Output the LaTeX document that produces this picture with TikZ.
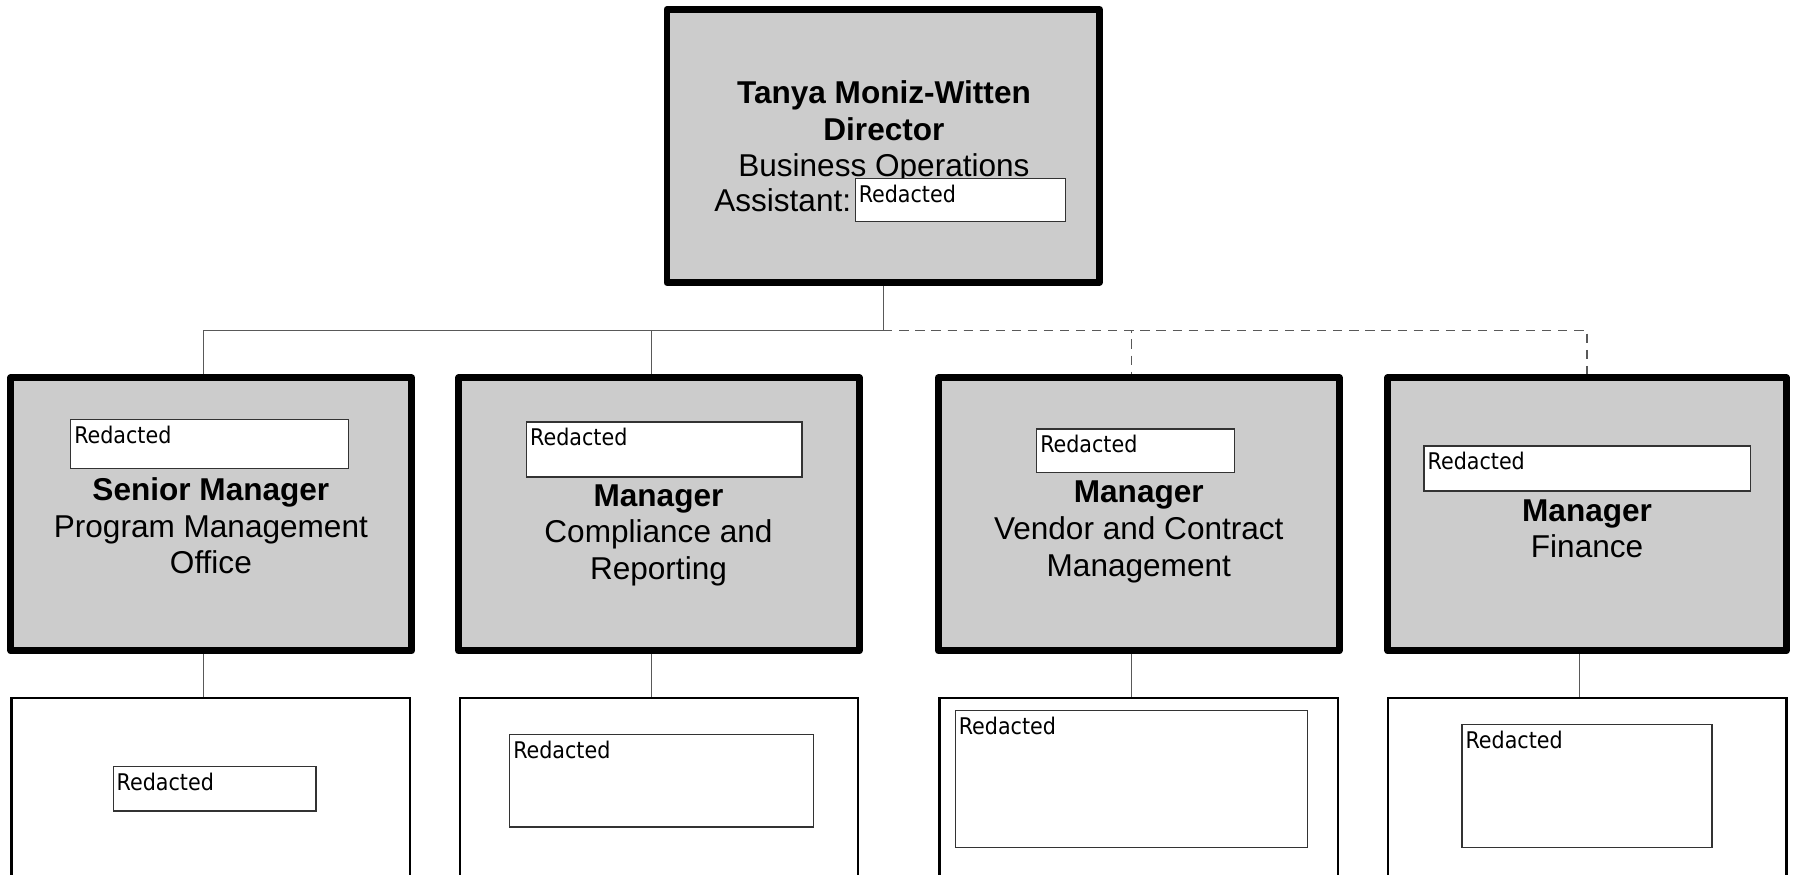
\documentclass[tikz,border=0pt]{standalone}
\usepackage{fontspec}
\setmainfont{Liberation Sans}
\newfontfamily\redfont{DejaVu Sans Condensed}
\begin{document}
\begin{tikzpicture}[x=1pt,y=-1pt,
  head/.style={draw,line width=6pt,line join=round,fill=black!20,inner sep=0pt,minimum width=349,minimum height=238},
  sub/.style={draw,line width=2.2pt,fill=white,inner sep=0pt,minimum width=347,minimum height=172},
  redact/.style={draw=black!80,line width=1.2pt,fill=white,inner sep=0pt,anchor=north west},
  redtext/.style={inner sep=0pt,anchor=base west,font=\redfont\fontsize{20}{24}\selectfont},
  title/.style={inner sep=0pt,anchor=base,align=center,font=\fontsize{27.5}{32}\selectfont},
  link/.style={black!65,line width=1.1pt},
  dotlink/.style={link,dash pattern=on 8pt off 6pt}]
\useasboundingbox (0,0) rectangle (1568,762);
\clip (0,0) rectangle (1568,762);

\node[head,minimum width=376.7,minimum height=237.8] (dir) at (769.4,127.1) {};
\node[head] (pmo) at (184,448) {};
\node[head] (comp) at (574,448) {};
\node[head] (vend) at (992,448) {};
\node[head,minimum width=347] (fin) at (1382.5,448) {};

\node[sub] (pmostaff) at (183.6,694) {};
\node[sub] (compstaff) at (574,694) {};
\node[sub] (vendstaff) at (992,694) {};
\node[sub] (finstaff) at (1382.5,694) {};

\coordinate (bus) at (769.4,287.8);
\draw[link] (dir.south) -- (bus);
\draw[link] (bus) -| ([xshift=-7]pmo.north);
\draw[link] (bus) -| ([xshift=-6.6]comp.north);
\draw[dotlink] (bus) -| ([xshift=-6.5]vend.north);
\draw[dotlink] (bus) -| (fin.north);

\draw[link] ([xshift=-7]pmo.south) -- ([xshift=-6.6]pmostaff.north);
\draw[link] ([xshift=-6.6]comp.south) -- ([xshift=-6.6]compstaff.north);
\draw[link] ([xshift=-6.5]vend.south) -- ([xshift=-6.5]vendstaff.north);
\draw[link] ([xshift=-6.5]fin.south) -- ([xshift=-6.5]finstaff.north);

\node[title] (dirtext) at (770,154) {\textbf{Tanya Moniz-Witten}\\\textbf{Director}\\Business Operations};
\node[title,anchor=base west] (asst) at (622,184.4) {Assistant:};
\node[title] (pmotext) at (183.7,499.8) {\textbf{Senior Manager}\\Program Management\\Office};
\node[title] (comptext) at (573.6,505) {\textbf{Manager}\\Compliance and\\Reporting};
\node[title] (vendtext) at (992,502) {\textbf{Manager}\\Vendor and Contract\\Management};
\node[title] (fintext) at (1382.5,486) {\textbf{Manager}\\Finance};

\node[redact,minimum width=183,minimum height=37.7] (asstbox) at (744.4,154.8) {};
\node[redtext] at ([shift={(3.5,21.4)}]asstbox.north west) {Redacted};
\node[redact,minimum width=242,minimum height=42.4] (pmobox) at (61,365) {};
\node[redtext] at ([shift={(3.5,21.4)}]pmobox.north west) {Redacted};
\node[redact,minimum width=239.8,minimum height=47.8] (compbox) at (458.2,367) {};
\node[redtext] at ([shift={(3.5,21.4)}]compbox.north west) {Redacted};
\node[redact,minimum width=172.3,minimum height=37.8] (vendbox) at (902.5,373) {};
\node[redtext] at ([shift={(3.5,21.4)}]vendbox.north west) {Redacted};
\node[redact,minimum width=284.5,minimum height=39.2] (finbox) at (1240,388) {};
\node[redtext] at ([shift={(3.5,21.4)}]finbox.north west) {Redacted};

\node[redact,minimum width=176.8,minimum height=38.8] (pmostaffbox) at (98,667) {};
\node[redtext] at ([shift={(3.5,21.4)}]pmostaffbox.north west) {Redacted};
\node[redact,minimum width=264.4,minimum height=80.8] (compstaffbox) at (443.4,639) {};
\node[redtext] at ([shift={(3.5,21.4)}]compstaffbox.north west) {Redacted};
\node[redact,minimum width=306.8,minimum height=119.1] (vendstaffbox) at (831.6,618.4) {};
\node[redtext] at ([shift={(3.5,21.4)}]vendstaffbox.north west) {Redacted};
\node[redact,minimum width=217.8,minimum height=106.8] (finstaffbox) at (1273,630.7) {};
\node[redtext] at ([shift={(3.5,21.4)}]finstaffbox.north west) {Redacted};
\end{tikzpicture}
\end{document}
